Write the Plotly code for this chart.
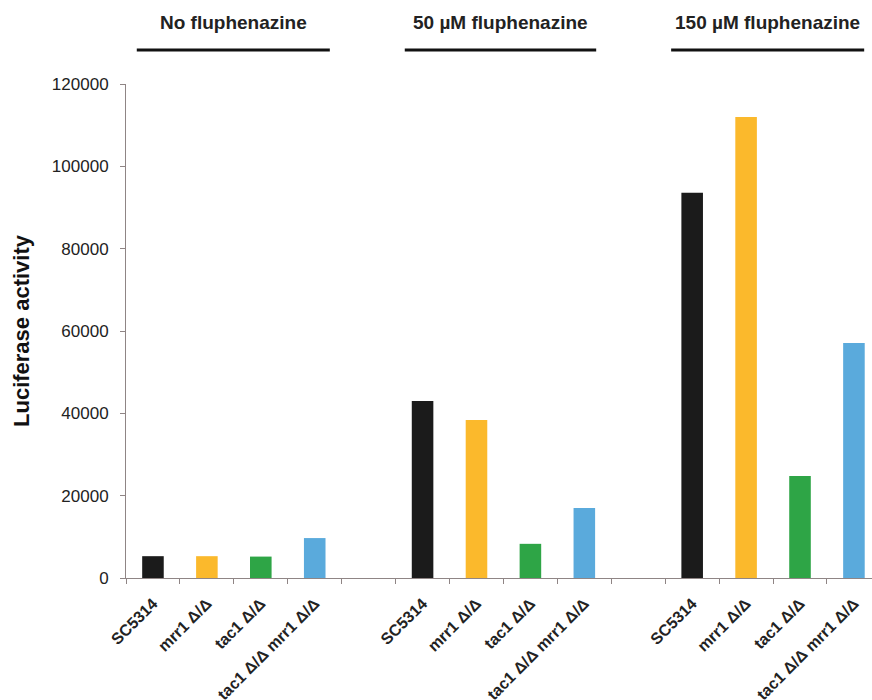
import plotly.graph_objects as go

strains = ["SC5314", "mrr1 Δ/Δ", "tac1 Δ/Δ", "tac1 Δ/Δ mrr1 Δ/Δ"]
conditions = ["No fluphenazine", "50 µM fluphenazine", "150 µM fluphenazine"]
no_flu = [5300, 5300, 5200, 9700]
flu_50 = [43000, 38400, 8300, 17000]
flu_150 = [93600, 112000, 24800, 57100]
colors = ["#1b1b1b", "#fbb92c", "#2ea546", "#5aaadc"]
y_ticks = [0, 20000, 40000, 60000, 80000, 100000, 120000]

groups = [no_flu, flu_50, flu_150]
xs, ys, cs, labels = [], [], [], []
for gi, vals in enumerate(groups):
    for si, v in enumerate(vals):
        xs.append(gi * 5 + si)
        ys.append(v)
        cs.append(colors[si])
        labels.append(strains[si])

fig = go.Figure()
fig.add_trace(go.Bar(x=xs, y=ys, marker=dict(color=cs, line=dict(width=0)),
                     width=0.4, showlegend=False))

font_family = "Liberation Sans, Arial, sans-serif"

fig.update_layout(
    width=872, height=700,
    margin=dict(l=126, r=0, t=84, b=122),
    paper_bgcolor="white", plot_bgcolor="white",
    font=dict(family=font_family, color="#222222"),
    xaxis=dict(
        range=[-0.5, 13.335], automargin=False,
        tickmode="array", tickvals=xs, ticktext=labels,
        tickangle=-45, ticks="", showgrid=False, zeroline=False,
        showline=True, linecolor="#8f8585", linewidth=1,
        tickfont=dict(size=16, family=font_family, color="#222222", weight="bold"),
        ticklabelstandoff=9,
        minor=dict(tickmode="linear", tick0=-0.5, dtick=1, ticks="outside",
                   ticklen=5, tickcolor="#8f8585", tickwidth=1, showgrid=False),
    ),
    yaxis=dict(
        range=[0, 120000], tickmode="array", tickvals=y_ticks, automargin=False,
        ticktext=[str(t) for t in y_ticks],
        ticks="outside", ticklen=5, tickcolor="#8f8585",
        showline=True, linecolor="#8f8585", linewidth=1,
        showgrid=False, zeroline=False,
        ticklabelstandoff=8,
        tickfont=dict(size=17, family=font_family, color="#222222"),
        title=dict(text="Luciferase activity", standoff=16,
                   font=dict(size=22, family=font_family, color="#111111", weight="bold")),
    ),
)

header_spans = [(-0.3, 3.28), (4.67, 8.22), (9.61, 13.19)]
for cond, (x0, x1) in zip(conditions, header_spans):
    fig.add_shape(type="line", xref="x", yref="paper", x0=x0, x1=x1,
                  y0=1.0688, y1=1.0688, line=dict(color="#111111", width=3))
    fig.add_annotation(text=cond, xref="x", yref="paper", x=(x0 + x1) / 2,
                       y=1.1255, yanchor="middle", xanchor="center", showarrow=False,
                       font=dict(size=19, family=font_family, color="#222222", weight="bold"))

fig.write_html("out.html", config={"displayModeBar": False},
               post_script="document.body.style.margin='0';document.body.style.overflow='hidden';")
